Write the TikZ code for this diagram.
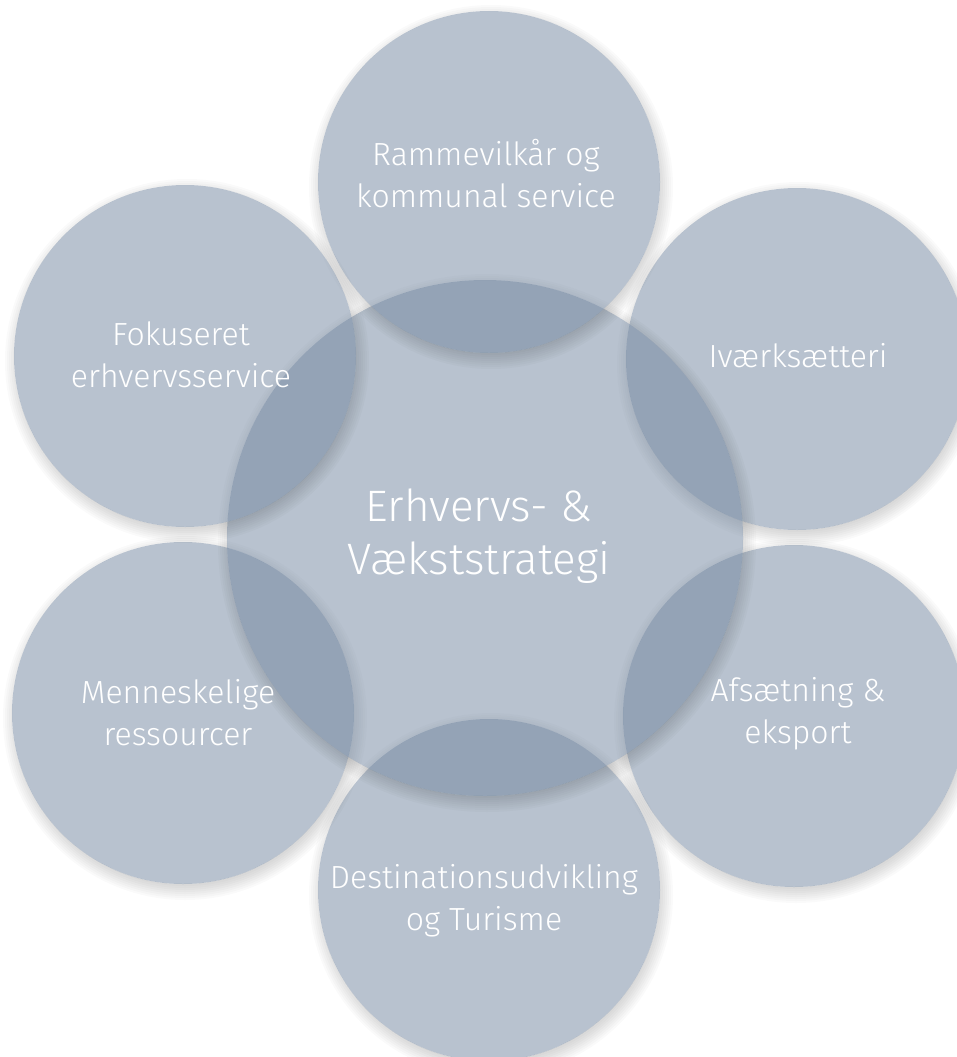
\documentclass[tikz,border=0pt]{standalone}
\usepackage{fontspec}
\setmainfont{Fira Sans}[UprightFont={* Light}]
\definecolor{bubblue}{RGB}{110,131,157}
\newcommand{\softshadow}[3]{%
  \begin{scope}[even odd rule]
    \clip (-50,-50) rectangle (1010,1110) (#1,#2) circle (#3);
    \foreach \k in {1,...,12}
      \fill[black, opacity=0.018] (#1+2,#2+5) circle ({#3+13-2*\k});
  \end{scope}}
\tikzset{
  bubble/.style={circle, fill=bubblue, fill opacity=0.49, draw=none, inner sep=0pt, minimum size=342pt},
  bigbubble/.style={bubble, minimum size=516pt},
  lab/.style={text=white, align=center, anchor=base, inner sep=0pt, font=\fontsize{32}{42}\selectfont},
  biglab/.style={lab, font=\fontsize{44}{53}\selectfont}
}
\begin{document}
\begin{tikzpicture}[x=1pt,y=-1pt]
\useasboundingbox (0,0) rectangle (957,1057);
% order of drawing
\softshadow{797}{359}{171}
\node[bubble] (iv) at (797,359) {};
\softshadow{794}{716}{171}
\node[bubble] (af) at (794,716) {};
\softshadow{489}{890}{171}
\node[bubble] (de) at (489,890) {};
\softshadow{183}{713}{171}
\node[bubble] (me) at (183,713) {};
\softshadow{485}{538}{258}
\node[bigbubble] (ce) at (485,538) {};
\softshadow{489}{182}{171}
\node[bubble] (tp) at (489,182) {};
\softshadow{185}{356}{171}
\node[bubble] (fo) at (185,356) {};
% labels (base anchor = baseline of last line)
\node[lab] (tpl) at (486,207) {Rammevilkår og\\kommunal service};
\node[lab] (ivl) at (798,367) {Iværksætteri};
\node[lab] (afl) at (798,743) {Afsætning \&\\eksport};
\node[lab] (del) at (484,930) {Destinationsudvikling\\og Turisme};
\node[lab] (mel) at (178,745) {Menneskelige\\ressourcer};
\node[lab] (fol) at (181,387) {Fokuseret\\erhvervsservice};
\node[biglab] (cel) at (479,574) {Erhvervs- \&\\Vækststrategi};
\end{tikzpicture}
\end{document}
